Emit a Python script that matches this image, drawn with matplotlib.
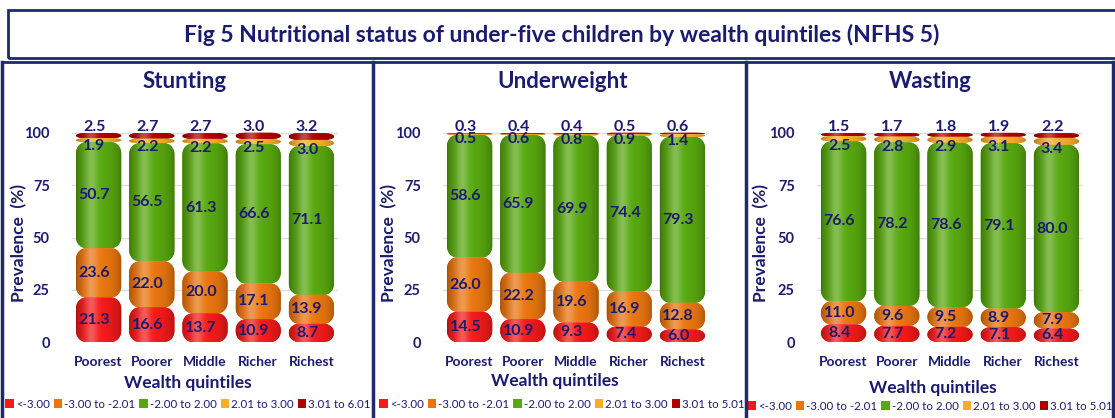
import numpy as np
import matplotlib
matplotlib.use("Agg")
from matplotlib import pyplot as plt
from matplotlib.patches import PathPatch, Patch, Rectangle
from matplotlib.path import Path
from matplotlib.lines import Line2D

plt.rcParams['font.family'] = ['Lato', 'DejaVu Sans']

NAVY = '#1b1b6f'
BORDER = '#1f2a6b'

quintiles = ["Poorest", "Poorer", "Middle", "Richer", "Richest"]

# z-score bands, bottom to top
stunting = {
    "<-3.00": [21.3, 16.6, 13.7, 10.9, 8.7],
    "-3.00 to -2.01": [23.6, 22.0, 20.0, 17.1, 13.9],
    "-2.00 to 2.00": [50.7, 56.5, 61.3, 66.6, 71.1],
    "2.01 to 3.00": [1.9, 2.2, 2.2, 2.5, 3.0],
    "3.01 to 6.01": [2.5, 2.7, 2.7, 3.0, 3.2],
}
underweight = {
    "<-3.00": [14.5, 10.9, 9.3, 7.4, 6.0],
    "-3.00 to -2.01": [26.0, 22.2, 19.6, 16.9, 12.8],
    "-2.00 to 2.00": [58.6, 65.9, 69.9, 74.4, 79.3],
    "2.01 to 3.00": [0.5, 0.6, 0.8, 0.9, 1.4],
    "3.01 to 5.01": [0.3, 0.4, 0.4, 0.5, 0.6],
}
wasting = {
    "<-3.00": [8.4, 7.7, 7.2, 7.1, 6.4],
    "-3.00 to -2.01": [11.0, 9.6, 9.5, 8.9, 7.9],
    "-2.00 to 2.00": [76.6, 78.2, 78.6, 79.1, 80.0],
    "2.01 to 3.00": [2.5, 2.8, 2.9, 3.1, 3.4],
    "3.01 to 5.01": [1.5, 1.7, 1.8, 1.9, 2.2],
}
band_colors = ['#f51a1a', '#ea760f', '#58a80f', '#f6ae2a', '#b00000']

panels = [("Stunting", stunting), ("Underweight", underweight), ("Wasting", wasting)]

W, H = 1115, 418
fig = plt.figure(figsize=(W / 100, H / 100), dpi=100)
fig.patch.set_facecolor('white')


def fx(px):
    return px / W


def fy(py):
    return 1 - py / H


def shade(color, n=64):
    """horizontal cylinder shading for one band colour"""
    base = np.array(matplotlib.colors.to_rgb(color))
    t = np.linspace(0, 1, n)
    body = 0.68 + 0.32 * np.sin(np.pi * t) ** 0.5
    glow = 0.28 * np.exp(-((t - 0.33) / 0.14) ** 2)
    rgb = base[None, :] * body[:, None]
    rgb = rgb + (1 - rgb) * glow[:, None]
    return np.clip(rgb, 0, 1)[None, :, :]


def pill(x0, y0, w, h, rx, ry, n=12):
    """rounded rectangle with elliptic corners, in data units"""
    ry = min(ry, h / 2)
    rx = min(rx, w / 2)
    pts = []
    corners = [(x0 + w - rx, y0 + ry, -np.pi / 2, 0),
               (x0 + w - rx, y0 + h - ry, 0, np.pi / 2),
               (x0 + rx, y0 + h - ry, np.pi / 2, np.pi),
               (x0 + rx, y0 + ry, np.pi, 1.5 * np.pi)]
    for cx, cy, a0, a1 in corners:
        a = np.linspace(a0, a1, n)
        pts.extend(zip(cx + rx * np.cos(a), cy + ry * np.sin(a)))
    pts.append(pts[0])
    return Path(pts, closed=True)


def segment(ax, x, bottom, height, width, color, px_x, px_y):
    path = pill(x - width / 2, bottom, width, height, 10 / px_x, 11 / px_y)
    p = PathPatch(path, facecolor=color, edgecolor='none', zorder=2)
    ax.add_patch(p)
    im = ax.imshow(shade(color), extent=(x - width / 2, x + width / 2, bottom, bottom + height),
                   aspect='auto', zorder=3, interpolation='bilinear')
    im.set_clip_path(p)


# pixel layout
ax_lefts = [72, 443, 817]
ax_width = 266
y0_px, per_unit = 342, 2.09
ymax = 110
title_x = [185, 563, 930]
xlab_pos = [(188, 375), (555, 373), (933, 380)]
ylab_x = [27, 397, 769]
leg_pos = [(188, 404), (562, 404), (930, 406)]

for i, (name, data) in enumerate(panels):
    ax = fig.add_axes([fx(ax_lefts[i]), fy(y0_px), fx(ax_width), ymax * per_unit / H])
    ax.set_xlim(-0.5, 4.5)
    ax.set_ylim(0, ymax)
    px_x = ax_width / 5
    xs = np.arange(len(quintiles))
    width = 0.85
    bands = list(data.keys())
    vals = np.array([data[b] for b in bands])
    bottoms = np.vstack([np.zeros(5), np.cumsum(vals, axis=0)[:-1]])

    for k in range(len(bands) - 1, -1, -1):
        for j in xs:
            segment(ax, j, bottoms[k, j], vals[k, j], width, band_colors[k], px_x, per_unit)

    for k in range(len(bands)):
        for j in xs:
            v = vals[k, j]
            if k <= 2:
                y = bottoms[k, j] + v / 2
            elif k == 3:
                y = bottoms[k, j] - 2.0
            else:
                y = bottoms[k, j] + v + 3.0
            ax.text(j - 0.08, y, f"{v:.1f}", ha='center', va='center', color=NAVY,
                    fontsize=11.5, fontweight='bold', zorder=5)

    ax.set_yticks([0, 25, 50, 75, 100])
    ax.set_xticks(xs)
    ax.set_xticklabels(quintiles)
    ax.tick_params(axis='y', length=0, pad=16, labelsize=10.5, labelcolor=NAVY)
    ax.tick_params(axis='x', length=0, pad=10, labelsize=10, labelcolor=NAVY)
    for lab in ax.get_xticklabels() + ax.get_yticklabels():
        lab.set_fontweight('bold')
    for s in ax.spines.values():
        s.set_visible(False)
    ax.set_facecolor('none')
    ax.grid(axis='y', color='#dedede', lw=1, zorder=0)
    ax.set_axisbelow(True)

    ax.set_ylabel("Prevalence  (%)", color=NAVY, fontsize=12.5, fontweight='bold')
    ax.yaxis.set_label_coords(fx(ylab_x[i]), fy(243), transform=fig.transFigure)
    ax.set_xlabel("Wealth quintiles", color=NAVY, fontsize=12.5, fontweight='bold')
    ax.xaxis.set_label_coords(fx(xlab_pos[i][0]), fy(xlab_pos[i][1]), transform=fig.transFigure)

    fig.text(fx(title_x[i]), fy(81), name, ha='center', va='center', color=NAVY,
             fontsize=16, fontweight='bold')

    handles = [Patch(facecolor=c, edgecolor='none') for c in band_colors]
    leg = ax.legend(handles, bands, loc='center', ncol=5, frameon=False,
                    bbox_to_anchor=(fx(leg_pos[i][0]), fy(leg_pos[i][1])),
                    bbox_transform=fig.transFigure, fontsize=8.3,
                    handlelength=0.75, handleheight=0.75, handletextpad=0.15,
                    columnspacing=0.35, borderaxespad=0, borderpad=0)
    for t in leg.get_texts():
        t.set_color(NAVY)

# frame boxes
fig.add_artist(Rectangle((fx(8), fy(58)), fx(1120) - fx(8), fy(10) - fy(58),
                         transform=fig.transFigure, fill=False, edgecolor=BORDER, lw=2))
fig.add_artist(Line2D([fx(2), fx(1115)], [fy(62), fy(62)], transform=fig.transFigure, color=BORDER, lw=2))
for xp in [2, 373, 746, 1113]:
    fig.add_artist(Line2D([fx(xp), fx(xp)], [fy(62), fy(420)], transform=fig.transFigure, color=BORDER, lw=2.5))

fig.text(fx(562), fy(35), "Fig 5 Nutritional status of under-five children by wealth quintiles (NFHS 5)",
         ha='center', va='center', color=NAVY, fontsize=16.5, fontweight='bold')

fig.savefig("out.png", dpi=100)
